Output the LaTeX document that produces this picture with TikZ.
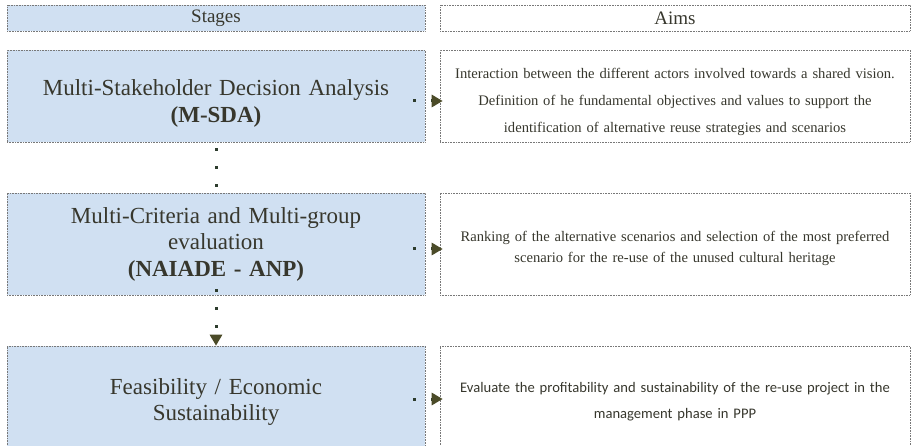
\documentclass[tikz,border=0pt]{standalone}
\usepackage{fontspec}
\setmainfont{Liberation Serif}
\newfontfamily\calibrifont{Carlito}
\usetikzlibrary{arrows.meta, positioning}
\definecolor{stagefill}{RGB}{208,224,242}
\definecolor{framegray}{RGB}{120,120,120}
\definecolor{textdark}{RGB}{55,55,45}
\definecolor{dotdark}{RGB}{45,60,45}
\definecolor{tipolive}{RGB}{75,75,40}
\newcommand{\topgap}[1]{\rule{0pt}{#1}}
\tikzset{
  hdrbox/.style={rectangle, draw=framegray, densely dotted, line width=0.6pt,
    minimum height=26pt, font=\fontsize{19}{21}\selectfont, text=textdark},
  stagebox/.style={rectangle, draw=framegray, densely dotted, line width=0.6pt,
    fill=stagefill, minimum width=418pt, text width=400pt, align=center,
    font=\fontsize{23}{27.5}\selectfont, text=textdark},
  aimbox/.style={rectangle, draw=framegray, densely dotted, line width=0.6pt,
    minimum width=470pt, text width=456pt, align=center,
    font=\fontsize{14.6}{27}\selectfont, text=textdark},
  dotline/.style={draw=dotdark, line width=3pt, dash pattern=on 3pt off 15pt},
  dotarrow/.style={dotline, -{Triangle[length=11pt, width=12pt, color=tipolive]}}
}
\begin{document}
\begin{tikzpicture}[x=1pt, y=-1pt]
  \useasboundingbox (0,0) rectangle (912,446);
  \clip (0,0) rectangle (912,446);
  % Column headers
  \node[hdrbox, minimum width=418pt, fill=stagefill] (hstage) at (216,18) {Stages};
  \node[hdrbox, minimum width=470pt] (haim) at (675,18) {Aims};
  % Stages
  \node[stagebox, minimum height=92pt] (msda) at (216,96)
    {\topgap{31pt}Multi-Stakeholder Decision Analysis\\\textbf{(M-SDA)}};
  \node[stagebox, minimum height=102pt] (naiade) at (216,244)
    {Multi-Criteria and Multi-group\\[-1pt]evaluation\\[-1pt]\textbf{(NAIADE - ANP)}};
  \node[stagebox, minimum height=112pt] (feas) at (216,402)
    {Feasibility / Economic\\[-1pt]Sustainability\\[8pt]};
  % Aims
  \node[aimbox, minimum height=92pt] (aim1) at (675,96)
    {\topgap{22pt}Interaction between the different actors involved towards a shared vision.\\
     Definition of he fundamental objectives and values to support the\\
     identification of alternative reuse strategies and scenarios};
  \node[aimbox, minimum height=102pt, font=\fontsize{14.6}{21.5}\selectfont] (aim2) at (675,244)
    {\topgap{19pt}Ranking of the alternative scenarios and selection of the most preferred\\
     scenario for the re-use of the unused cultural heritage};
  \node[aimbox, minimum height=112pt, font=\calibrifont\fontsize{14.6}{26}\selectfont] (aim3) at (675,402)
    {Evaluate the profitability and sustainability of the re-use project in the\\
     management phase in PPP\\[8pt]};
  % Dotted connectors between stages
  \draw[dotline] ([yshift=-6pt]msda.south) -- (naiade.north);
  \draw[dotarrow] ([yshift=6pt]naiade.south) -- (feas.north);
  % Dotted connectors stage -> aim
  \draw[dotarrow] ([xshift=-12pt,yshift=-5pt]msda.east) -- ([xshift=3pt,yshift=-5pt]aim1.west);
  \draw[dotarrow] ([xshift=-12pt,yshift=-5pt]naiade.east) -- ([xshift=3pt,yshift=-5pt]aim2.west);
  \draw[dotarrow] ([xshift=-12pt,yshift=3pt]feas.east) -- ([xshift=3pt,yshift=3pt]aim3.west);
\end{tikzpicture}
\end{document}
